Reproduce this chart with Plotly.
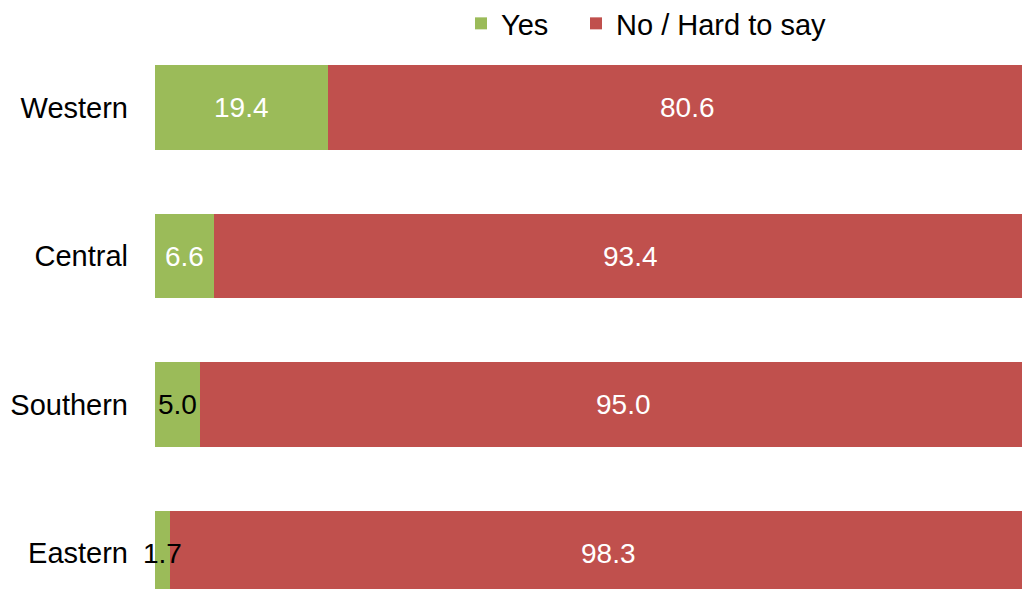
import plotly.graph_objects as go

regions = ["Western", "Central", "Southern", "Eastern"]
yes_vals = [19.4, 6.6, 5.0, 1.7]
no_vals = [80.6, 93.4, 95.0, 98.3]
yes_label_colors = ["white", "white", "black", "black"]
no_label_colors = ["white", "white", "white", "white"]

FONT = "Liberation Sans, Arial, sans-serif"
GREEN = "#9BBB59"
RED = "#C0504D"

fig = go.Figure()
fig.add_trace(go.Bar(
    y=regions, x=yes_vals, name="Yes", orientation="h",
    marker=dict(color=GREEN, line=dict(width=0)),
    width=0.572, hoverinfo="skip", legend="legend",
))
fig.add_trace(go.Bar(
    y=regions, x=no_vals, name="No / Hard to say", orientation="h",
    marker=dict(color=RED, line=dict(width=0)),
    width=0.572, hoverinfo="skip", legend="legend2",
))

annotations = []
for r, yv, nv, yc, nc in zip(regions, yes_vals, no_vals, yes_label_colors, no_label_colors):
    annotations.append(dict(x=yv / 2, y=r, xref="x", yref="y", text=f"{yv:.1f}",
                            showarrow=False, xanchor="center", yanchor="middle",
                            font=dict(family=FONT, size=28, color=yc)))
    annotations.append(dict(x=yv + nv / 2, y=r, xref="x", yref="y", text=f"{nv:.1f}",
                            showarrow=False, xanchor="center", yanchor="middle",
                            font=dict(family=FONT, size=28, color=nc)))

W, H = 1022, 581
legend_common = dict(orientation="h", xanchor="left", y=1 + 10 / H, yanchor="top",
                     font=dict(family=FONT, size=29, color="black"),
                     bgcolor="rgba(0,0,0,0)")

fig.update_layout(
    width=W, height=H,
    margin=dict(l=147, r=0, t=0, b=0, autoexpand=False),
    barmode="stack",
    plot_bgcolor="white", paper_bgcolor="white",
    font=dict(family=FONT, size=29, color="black"),
    showlegend=True,
    legend=dict(x=(453 - 147) / 875, **legend_common),
    legend2=dict(x=(568 - 147) / 875, **legend_common),
    xaxis=dict(range=[0, 98.1], visible=False, fixedrange=True),
    yaxis=dict(type="category",
               categoryorder="array",
               categoryarray=["Eastern", "Southern", "Central", "Western"],
               range=[-0.2424, 3.670], showgrid=False, zeroline=False,
               showline=False, ticks="", ticklabelstandoff=26,
               tickfont=dict(family=FONT, size=29, color="black")),
    annotations=annotations,
)

fig.write_html("out.html")
